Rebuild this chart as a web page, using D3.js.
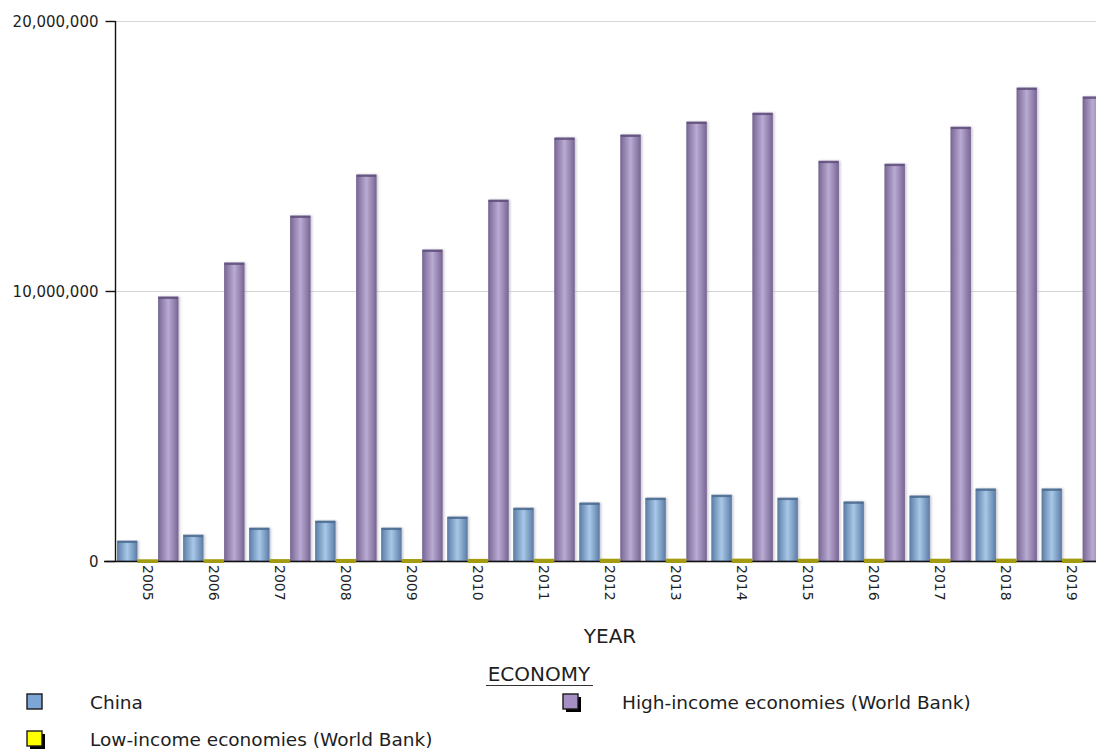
<!DOCTYPE html>
<html>
<head>
<meta charset="utf-8">
<script src="https://cdn.jsdelivr.net/npm/d3@7/dist/d3.min.js"></script>
<style>
  html, body { margin: 0; padding: 0; background: #fff; }
  svg { display: block; }
  text { font-family: "DejaVu Sans", sans-serif; fill: #1e1e1e; }
</style>
</head>
<body>
<svg id="chart" width="1096" height="751"></svg>
<script>
// Years on the category axis
const years = ["2005","2006","2007","2008","2009","2010","2011","2012","2013","2014","2015","2016","2017","2018","2019"];

// Series values per year
const china = [740000, 960000, 1220000, 1480000, 1220000, 1630000, 1960000, 2150000, 2330000, 2440000, 2330000, 2190000, 2410000, 2670000, 2670000];
const lowIncome = [45000, 48000, 52000, 58000, 55000, 60000, 64000, 66000, 68000, 70000, 66000, 64000, 66000, 68000, 70000];
const highIncome = [9780000, 11040000, 12780000, 14300000, 11520000, 13370000, 15670000, 15780000, 16260000, 16590000, 14810000, 14700000, 16070000, 17520000, 17190000];

const seriesNames = ["China", "Low-income economies (World Bank)", "High-income economies (World Bank)"];
const yTicks = [0, 10000000, 20000000];

const svg = d3.select("#chart");
const defs = svg.append("defs");

// Cylinder-like horizontal gradients for the bars
function gradient(id, edge, mid) {
  const g = defs.append("linearGradient").attr("id", id)
    .attr("x1", "0%").attr("x2", "100%").attr("y1", "0%").attr("y2", "0%");
  g.append("stop").attr("offset", "0%").attr("stop-color", edge);
  g.append("stop").attr("offset", "50%").attr("stop-color", mid);
  g.append("stop").attr("offset", "100%").attr("stop-color", edge);
}
gradient("gChina", "#5d80a8", "#a9c8e8");
gradient("gHigh", "#7a6896", "#b9abd3");

const shadow = defs.append("filter").attr("id", "barShadow")
  .attr("x", "-30%").attr("y", "-5%").attr("width", "160%").attr("height", "110%");
shadow.append("feDropShadow").attr("dx", 1.5).attr("dy", 0).attr("stdDeviation", 1.2)
  .attr("flood-color", "#8a8098").attr("flood-opacity", 0.45);

const plotLeft = 115, plotRight = 1105, plotTop = 21, plotBottom = 561;

const x = d3.scaleBand().domain(years).range([plotLeft, plotRight]).paddingInner(0.068).paddingOuter(0.03);
const xs = d3.scaleBand().domain(seriesNames).range([0, x.bandwidth()]);
const y = d3.scaleLinear().domain([0, 20000000]).range([plotBottom, plotTop]);

// Gridlines
svg.append("g").selectAll("line").data(yTicks.filter(d => d > 0)).join("line")
  .attr("x1", plotLeft).attr("x2", 1096)
  .attr("y1", d => y(d) + 0.5).attr("y2", d => y(d) + 0.5)
  .attr("stroke", "#d6d6d6").attr("stroke-width", 1);

// Bars
const styles = {
  "China": { fill: "url(#gChina)", top: "#4b6b8f", stroke: "#5d7da2" },
  "High-income economies (World Bank)": { fill: "url(#gHigh)", top: "#5f4f7a", stroke: "#766592" }
};
const rows = years.map((yr, i) => ({
  year: yr,
  vals: [
    { key: seriesNames[0], v: china[i] },
    { key: seriesNames[1], v: lowIncome[i] },
    { key: seriesNames[2], v: highIncome[i] }
  ]
}));

const groups = svg.append("g").selectAll("g").data(rows).join("g")
  .attr("transform", d => `translate(${x(d.year)},0)`);

const tall = d => d.vals.filter(v => v.key !== seriesNames[1]);

groups.selectAll("rect.bar").data(tall).join("rect")
  .attr("class", "bar")
  .attr("x", d => xs(d.key) + 0.5)
  .attr("width", xs.bandwidth() - 1)
  .attr("y", d => y(d.v))
  .attr("height", d => plotBottom - y(d.v))
  .attr("fill", d => styles[d.key].fill)
  .attr("stroke", d => styles[d.key].stroke)
  .attr("stroke-width", 0.8)
  .attr("filter", "url(#barShadow)");

// Darker cap on top of each bar
groups.selectAll("rect.cap").data(tall).join("rect")
  .attr("class", "cap")
  .attr("x", d => xs(d.key) + 0.5)
  .attr("width", xs.bandwidth() - 1)
  .attr("y", d => y(d.v))
  .attr("height", 2)
  .attr("fill", d => styles[d.key].top)
  .attr("opacity", 0.85);

// X axis baseline
svg.append("line").attr("x1", 104).attr("x2", 1096)
  .attr("y1", plotBottom + 0.5).attr("y2", plotBottom + 0.5)
  .attr("stroke", "#111").attr("stroke-width", 1.4);

// Low-income bars are only a few pixels tall: drawn over the axis line as a thick strip
svg.append("g").selectAll("rect").data(rows).join("rect")
  .attr("x", d => x(d.year) + xs(seriesNames[1]))
  .attr("width", xs.bandwidth())
  .attr("y", d => y(d.vals[1].v) - 0.5)
  .attr("height", d => plotBottom - y(d.vals[1].v) + 2.5)
  .attr("fill", "#a39c10");

// Y axis
const yAxis = d3.axisLeft(y).tickValues(yTicks).tickSize(10).tickPadding(7)
  .tickFormat(d3.format(","));
const yg = svg.append("g").attr("transform", `translate(${plotLeft + 0.5},0)`).call(yAxis);
yg.select(".domain").attr("stroke", "#111").attr("stroke-width", 1.4)
  .attr("d", `M0,${plotTop}V${plotBottom}`);
yg.selectAll(".tick line").attr("stroke", "#111").attr("stroke-width", 1.4).attr("x2", -10);
yg.selectAll(".tick text").attr("font-size", 15).attr("fill", "#1e1e1e")
  .style("font-family", "'DejaVu Sans', sans-serif").attr("dy", "0.34em");

// X tick labels, rotated to read downward
svg.append("g").selectAll("text").data(years).join("text")
  .attr("transform", d => `translate(${x(d) + x.bandwidth() / 2},${plotBottom + 4}) rotate(90)`)
  .attr("dy", "0.36em")
  .attr("font-size", 14)
  .text(d => d);

// Axis title
svg.append("text").attr("x", (plotLeft + plotRight) / 2).attr("y", 643)
  .attr("text-anchor", "middle").attr("font-size", 20).text("YEAR");

// Legend
svg.append("text").attr("x", 539).attr("y", 681)
  .attr("text-anchor", "middle").attr("font-size", 20).text("ECONOMY");
svg.append("line").attr("x1", 486).attr("x2", 593).attr("y1", 685.5).attr("y2", 685.5)
  .attr("stroke", "#333").attr("stroke-width", 1.2);

const legendItems = [
  { name: seriesNames[0], color: "#7da5d5", sx: 27, sy: 694, tx: 90, ty: 709, shadow: false },
  { name: seriesNames[2], color: "#a58fc4", sx: 563, sy: 694, tx: 622, ty: 709, shadow: true },
  { name: seriesNames[1], color: "#ffff00", sx: 27, sy: 731, tx: 90, ty: 746, shadow: true }
];
const lg = svg.append("g").selectAll("g").data(legendItems).join("g");
lg.filter(d => d.shadow).append("rect")
  .attr("x", d => d.sx + 3).attr("y", d => d.sy + 3).attr("width", 15).attr("height", 15)
  .attr("fill", "#000");
lg.append("rect")
  .attr("x", d => d.sx).attr("y", d => d.sy).attr("width", 15).attr("height", 15)
  .attr("fill", d => d.color).attr("stroke", "#1a1a1a").attr("stroke-width", 1.4);
lg.append("text").attr("x", d => d.tx).attr("y", d => d.ty)
  .attr("font-size", 18.5).text(d => d.name);
</script>
</body>
</html>
